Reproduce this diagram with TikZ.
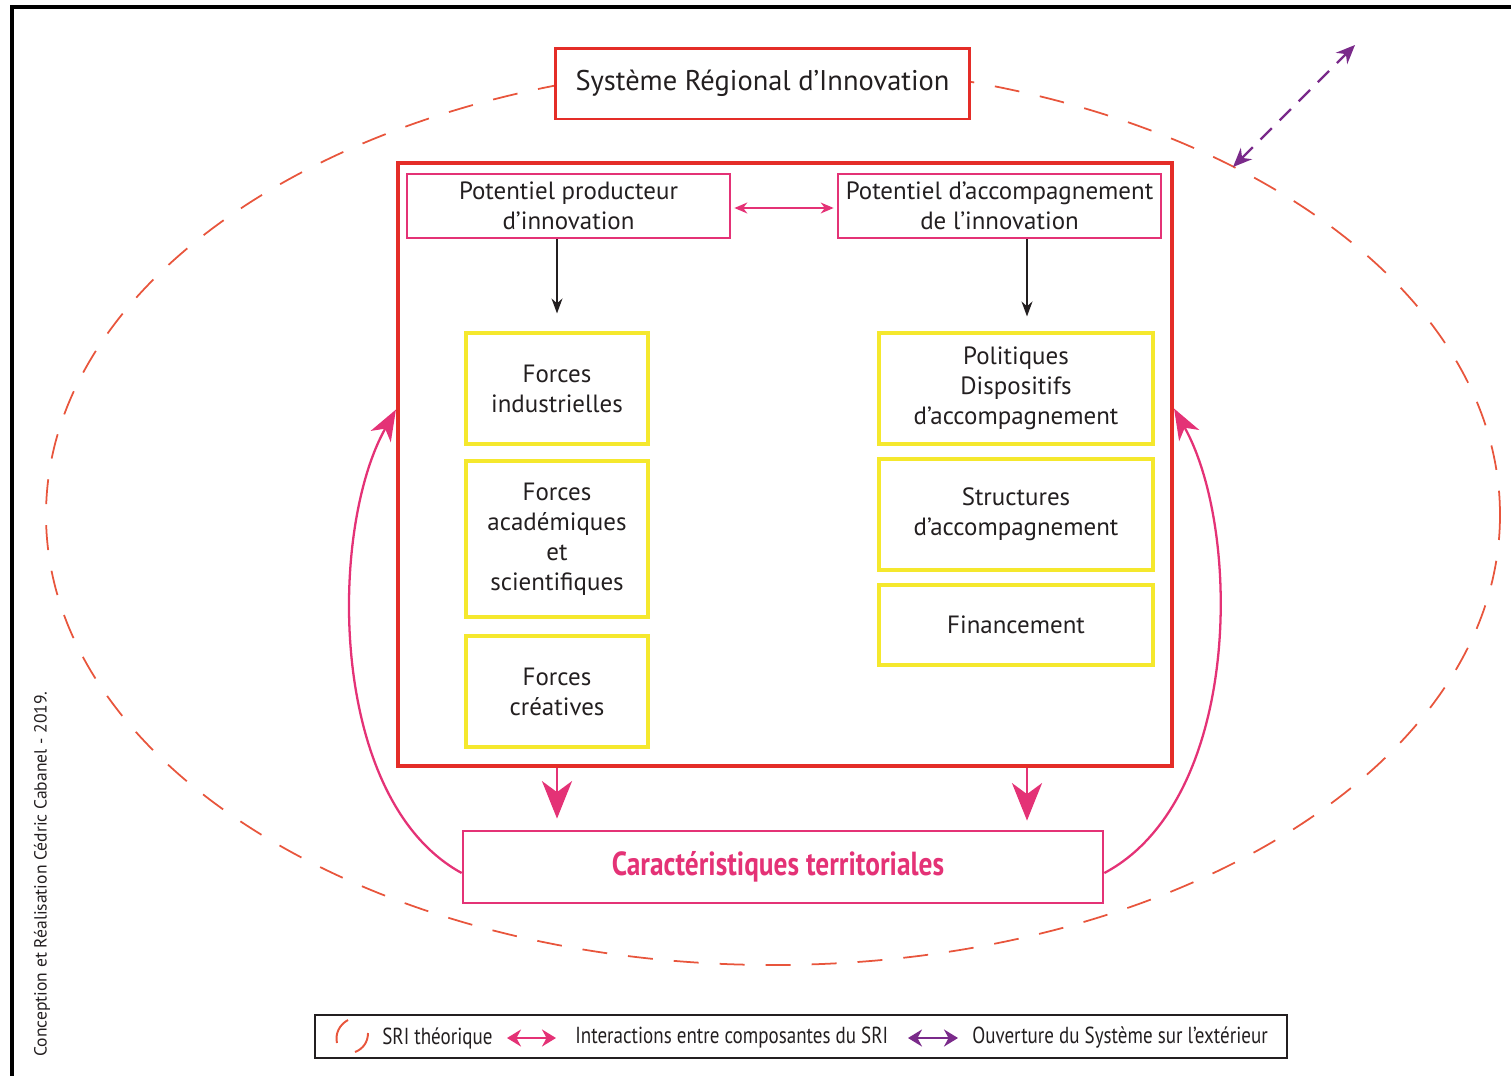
\documentclass[tikz,border=0pt]{standalone}
\usepackage{fontspec}
\setmainfont{PT Sans}
\newfontfamily\narrowfont[FakeStretch=0.82]{PT Sans}
\usetikzlibrary{positioning,arrows.meta,calc}
\definecolor{srired}{RGB}{228,45,40}
\definecolor{sriorange}{RGB}{232,85,60}
\definecolor{sripink}{RGB}{228,50,118}
\definecolor{sriyellow}{RGB}{245,232,45}
\definecolor{sripurple}{RGB}{122,42,138}
\definecolor{sritext}{RGB}{35,31,32}

\begin{document}
\begin{tikzpicture}[x=0.02cm,y=-0.02cm,
    boxtxt/.style={align=center,text=sritext,font=\fontsize{14.2}{17}\selectfont,inner sep=0pt},
    redbox/.style={draw=srired,boxtxt},
    pinkbox/.style={draw=sripink,line width=1.6pt,boxtxt,minimum width=6.46cm,minimum height=1.28cm},
    forcebox/.style={draw=sriyellow,line width=1.8pt,boxtxt,minimum width=3.64cm,minimum height=2.22cm},
    aidbox/.style={draw=sriyellow,line width=1.8pt,boxtxt,minimum width=5.48cm,minimum height=2.22cm},
    blackarrow/.style={-{Stealth[length=0.3cm,width=0.22cm]},line width=0.8pt,sritext},
    downarrow/.style={-{Stealth[length=0.75cm,width=0.6cm,inset=0.22cm]},line width=1.6pt,sripink},
    curvearrow/.style={-{Stealth[length=0.62cm,width=0.46cm,inset=0.18cm]},line width=1.3pt,sripink},
    legarrow/.style={{Stealth[length=0.28cm,width=0.34cm]}-{Stealth[length=0.28cm,width=0.34cm]},line width=1.3pt},
    legtxt/.style={anchor=west,text=sritext,font=\narrowfont\fontsize{13.2}{15}\selectfont,inner sep=0pt}]
    \useasboundingbox (0,0) rectangle (1511,1075);
    \draw[line width=2.8pt,black] (12,1090) -- (12,7) -- (1530,7);

    \draw[sriorange,line width=1pt,dash pattern=on 0.5cm off 0.42cm] (773,515) ellipse [x radius=727,y radius=450];

    \node[redbox,line width=1.7pt,fill=white,minimum width=8.3cm,minimum height=1.42cm,font=\fontsize{16.2}{19}\selectfont] (sri) at (762.5,83.5) {Système Régional d’Innovation};
    \node[redbox,line width=2.4pt,minimum width=15.48cm,minimum height=12.06cm] (main) at (785,464.5) {};

    \node[pinkbox] (prod) at (568.5,206) {Potentiel producteur\\d’innovation};
    \node[pinkbox] (acc) at (999.5,206) {Potentiel d’accompagnement\\de l’innovation};

    \node[forcebox] (ind) at (557,388.5) {Forces\\industrielles};
    \node[forcebox,minimum height=3.12cm] (acad) at (557,539) {Forces\\académiques\\et\\scientifiques};
    \node[forcebox] (crea) at (557,691.5) {Forces\\créatives};

    \node[aidbox] (pol) at (1016,388.5) {Politiques\\Dispositifs\\d’accompagnement};
    \node[aidbox] (struc) at (1016,514.5) {Structures\\d’accompagnement};
    \node[aidbox,minimum height=1.6cm] (fin) at (1016,625) {Financement};

    \node[draw=sripink,line width=1.6pt,minimum width=12.8cm,minimum height=1.44cm,text=sripink,
        font=\bfseries\narrowfont\fontsize{19}{21}\selectfont] (terr) at (783,867) {\hspace*{-0.2cm}Caractéristiques territoriales};

    \draw[{Stealth[length=0.26cm,width=0.22cm]}-{Stealth[length=0.26cm,width=0.22cm]},line width=0.9pt,sripink]
        ([xshift=0.06cm,yshift=-0.04cm]prod.east) -- ([xshift=-0.06cm,yshift=-0.04cm]acc.west);

    \draw[blackarrow] (prod.south -| ind.north) -- (ind.north) [shorten >=0.36cm];
    \draw[blackarrow,shorten >=0.3cm] ([xshift=0.22cm]acc.south -| pol.north) -- ([xshift=0.22cm]pol.north);

    \draw[downarrow,shorten >=0.22cm] (main.south -| ind.north) -- (terr.north -| ind.north);
    \draw[downarrow,shorten >=0.18cm] ([xshift=0.22cm]main.south -| pol.north) -- ([xshift=0.22cm]terr.north -| pol.north);

    \draw[curvearrow] ([yshift=-0.12cm]terr.west) .. controls (328,800) and (328,530) .. ([yshift=1.1cm]main.west);
    \draw[curvearrow] ([yshift=-0.12cm]terr.east) .. controls (1242,800) and (1242,530) .. ([yshift=1.12cm]main.east);

    \coordinate (inside) at (1233,167);
    \coordinate (outside) at (1355,45);
    \draw[{Stealth[length=0.38cm,width=0.32cm]}-{Stealth[length=0.38cm,width=0.32cm]},sripurple,line width=1.3pt,
        dash pattern=on 0.32cm off 0.22cm] (inside) -- (outside);

    \node[rotate=90,text=sritext,font=\fontsize{10}{12}\selectfont] (credit) at (42,874) {Conception et Réalisation Cédric Cabanel - 2019.};

    \node[draw=sritext,line width=1.1pt,minimum width=19.44cm,minimum height=0.86cm] (legend) at (801,1036.5) {};
    \draw[sriorange,line width=1.1pt] (348,1020) .. controls (339,1025) and (335,1034) .. (337,1043);
    \draw[sriorange,line width=1.1pt] (368,1033) .. controls (368,1042) and (363,1049) .. (355,1052);
    \node[legtxt] (legsri) at (382,1038) {SRI théorique};
    \coordinate (pinka) at (507,1038);
    \coordinate (pinkb) at (556,1038);
    \draw[legarrow,sripink] (pinka) -- (pinkb);
    \node[legtxt] (leginter) at (575,1038) {Interactions entre composantes du SRI};
    \coordinate (purpa) at (908,1038);
    \coordinate (purpb) at (958,1038);
    \draw[legarrow,sripurple] (purpa) -- (purpb);
    \node[legtxt] (legopen) at (972,1038) {Ouverture du Système sur l’extérieur};
\end{tikzpicture}
\end{document}
